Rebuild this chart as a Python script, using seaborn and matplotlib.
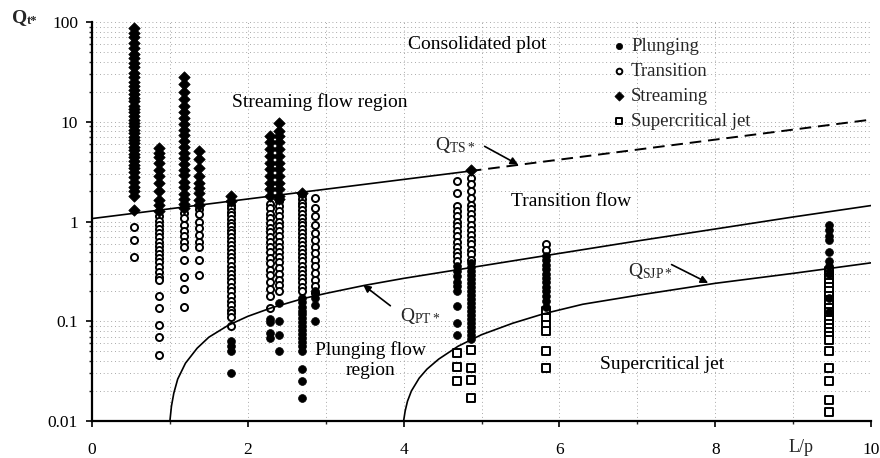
import numpy as np
import pandas as pd
import matplotlib
matplotlib.use("Agg")
import matplotlib.pyplot as plt
import seaborn as sns

# ---- measured points: one x position per test column, Q values per column ----
plunging_x = [1.78, 2.28, 2.40, 2.70, 2.86, 4.69, 4.87, 5.83, 9.46]
plunging_q = [
    [0.063, 0.056, 0.050, 0.030],
    [0.105, 0.098, 0.077, 0.068],
    [0.153, 0.100, 0.073, 0.050],
    [0.17, 0.155, 0.14, 0.128, 0.117, 0.107, 0.098, 0.09, 0.082, 0.075, 0.068,
     0.062, 0.056, 0.050, 0.033, 0.025, 0.017],
    [0.20, 0.17, 0.145, 0.10],
    [0.355, 0.316, 0.282, 0.25, 0.224, 0.20, 0.141, 0.096, 0.073],
    [0.38, 0.35, 0.32, 0.29, 0.265, 0.24, 0.22, 0.20, 0.183, 0.167, 0.152, 0.138,
     0.126, 0.115, 0.105, 0.095, 0.087, 0.079, 0.072, 0.066],
    [0.45, 0.41, 0.37, 0.335, 0.30, 0.27, 0.245, 0.22, 0.20, 0.18, 0.16, 0.14],
    [0.93, 0.83, 0.71, 0.66, 0.50, 0.40, 0.355, 0.30, 0.17, 0.125],
]

transition_x = [0.54, 0.86, 1.18, 1.37, 1.78, 2.28, 2.40, 2.70, 2.86, 4.69, 4.87, 5.83]
transition_q = [
    [0.88, 0.66, 0.44],
    [1.13, 1.02, 0.93, 0.85, 0.77, 0.70, 0.63, 0.57, 0.52, 0.47, 0.43, 0.39, 0.35,
     0.31, 0.28, 0.26, 0.178, 0.135, 0.092, 0.069, 0.046],
    [1.22, 1.09, 0.93, 0.80, 0.71, 0.63, 0.56, 0.415, 0.28, 0.21, 0.14],
    [1.32, 1.18, 1.0, 0.86, 0.74, 0.63, 0.56, 0.415, 0.29],
    [1.45, 1.35, 1.25, 1.15, 1.05, 0.97, 0.90, 0.83, 0.76, 0.70, 0.64, 0.58, 0.53,
     0.48, 0.44, 0.40, 0.36, 0.33, 0.30, 0.27, 0.245, 0.22, 0.20, 0.18, 0.16,
     0.145, 0.13, 0.12, 0.11, 0.09],
    [1.5, 1.35, 1.2, 1.08, 0.97, 0.87, 0.78, 0.70, 0.62, 0.55, 0.49, 0.43, 0.38,
     0.33, 0.29, 0.25, 0.21, 0.18, 0.137],
    [1.6, 1.42, 1.27, 1.13, 1.0, 0.90, 0.80, 0.71, 0.63, 0.56, 0.50, 0.44, 0.39,
     0.34, 0.30, 0.26, 0.23, 0.20],
    [1.85, 1.7, 1.55, 1.42, 1.3, 1.19, 1.09, 1.0, 0.92, 0.84, 0.77, 0.70, 0.64,
     0.58, 0.53, 0.48, 0.44, 0.40, 0.36, 0.33, 0.30, 0.27, 0.245, 0.22, 0.20],
    [1.73, 1.37, 1.13, 0.93, 0.77, 0.66, 0.56, 0.485, 0.415, 0.355, 0.305, 0.26,
     0.224, 0.19],
    [2.54, 1.94, 1.42, 1.27, 1.13, 1.0, 0.90, 0.80, 0.71, 0.63, 0.56, 0.50, 0.45, 0.40],
    [2.75, 2.35, 2.0, 1.73, 1.48, 1.32, 1.18, 1.05, 0.93, 0.83, 0.74, 0.66, 0.59,
     0.52, 0.47, 0.415],
    [0.60, 0.52],
]

streaming_x = [0.54, 0.86, 1.18, 1.37, 1.78, 2.28, 2.40, 2.70, 4.87]
streaming_q = [
    [88, 78, 70, 62, 55, 48, 44, 39, 35, 31, 28, 25, 23, 21, 19, 17.5, 16, 14.5,
     13.5, 12.5, 11.5, 10.5, 9.7, 9.0, 8.3, 7.7, 7.1, 6.6, 6.1, 5.6, 5.2, 4.8,
     4.4, 4.0, 3.7, 3.4, 3.1, 2.8, 2.5, 2.2, 2.0, 1.8, 1.3],
    [5.5, 4.9, 4.4, 3.9, 3.3, 2.85, 2.45, 2.0, 1.66, 1.48, 1.27],
    [28, 24, 20, 17, 14.5, 12.5, 11, 9.5, 8.3, 7.3, 6.4, 5.6, 4.9, 4.3, 3.8, 3.3,
     2.9, 2.5, 2.2, 1.9, 1.7, 1.5, 1.35],
    [5.1, 4.2, 3.46, 2.85, 2.45, 2.18, 1.94, 1.66, 1.48],
    [1.8, 1.6],
    [7.2, 6.2, 5.3, 4.5, 3.9, 3.33, 2.85, 2.45, 2.1, 1.8],
    [9.8, 8.1, 7.2, 6.2, 5.3, 4.5, 3.9, 3.33, 2.85, 2.45, 2.1, 1.8, 1.7],
    [1.95],
    [3.3],
]

supercritical_x = [4.69, 4.87, 5.83, 9.46]
supercritical_q = [
    [0.048, 0.035, 0.025],
    [0.052, 0.034, 0.026, 0.017],
    [0.126, 0.108, 0.092, 0.079, 0.050, 0.034],
    [0.32, 0.29, 0.265, 0.24, 0.22, 0.20, 0.18, 0.165, 0.15, 0.137, 0.125, 0.113,
     0.103, 0.094, 0.086, 0.078, 0.071, 0.065, 0.050, 0.034, 0.025, 0.0163, 0.0122],
]

# ---- regime boundary curves (points read along each boundary) ----
ts_x = [0.0, 4.85, 10.0]
ts_q = [1.07, 3.2, 10.5]
pt_x = [1.0, 1.02, 1.05, 1.1, 1.2, 1.35, 1.5, 1.75, 2.0, 2.3, 2.7, 3.0, 3.5, 4.0,
        5.0, 6.0, 7.0, 8.0, 9.0, 10.0]
pt_q = [0.01, 0.0141, 0.019, 0.0263, 0.038, 0.0537, 0.0692, 0.0912, 0.112, 0.136,
        0.168, 0.19, 0.229, 0.269, 0.359, 0.479, 0.638, 0.841, 1.11, 1.445]
sjp_x = [4.0, 4.02, 4.05, 4.1, 4.2, 4.3, 4.45, 4.7, 5.0, 5.4, 5.8, 6.3, 7.0, 8.0,
         9.0, 10.0]
sjp_q = [0.01, 0.0126, 0.0158, 0.02, 0.0269, 0.0331, 0.0417, 0.0562, 0.0733,
         0.0955, 0.119, 0.148, 0.182, 0.24, 0.302, 0.385]

categories = ["Plunging", "Transition", "Streaming", "Supercritical jet"]


def long_table(name, xs, qs):
    rows = [(name, x, q) for x, col in zip(xs, qs) for q in col]
    return pd.DataFrame(rows, columns=["regime", "L/p", "Q"])


points = pd.concat([
    long_table("Plunging", plunging_x, plunging_q),
    long_table("Transition", transition_x, transition_q),
    long_table("Streaming", streaming_x, streaming_q),
    long_table("Supercritical jet", supercritical_x, supercritical_q),
], ignore_index=True)

sns.set_style("ticks")
SERIF = ["Liberation Serif", "DejaVu Serif"]
plt.rcParams["font.family"] = SERIF
plt.rcParams["mathtext.fontset"] = "custom"
plt.rcParams["mathtext.rm"] = "Liberation Serif"
plt.rcParams["mathtext.it"] = "Liberation Serif:italic"
plt.rcParams["mathtext.bf"] = "Liberation Serif:bold"

fig = plt.figure(figsize=(8.8, 4.58), dpi=100)
ax = fig.add_axes([92 / 880, 37 / 458, 779 / 880, 399 / 458])
ax.set_yscale("log")
ax.set_xlim(0, 10)
ax.set_ylim(0.01, 100)

# dotted background grid
ax.set_xticks([0, 2, 4, 6, 8, 10])
ax.set_xticks([1, 3, 5, 7, 9], minor=True)
ax.grid(which="both", axis="both", linestyle=(0, (1, 3.5)), color="0.55", lw=0.6)
ax.set_axisbelow(True)

styles = {
    "Plunging": dict(marker="o", s=32, color="black", edgecolor="black", linewidth=0.5),
    "Transition": dict(marker="o", s=26, facecolor="white", edgecolor="black", linewidth=1.4),
    "Streaming": dict(marker="D", s=34, color="black", edgecolor="black", linewidth=0.5),
    "Supercritical jet": dict(marker="s", s=28, facecolor="white", edgecolor="black", linewidth=1.4),
}
draw_order = ["Transition", "Supercritical jet", "Streaming", "Plunging"]
for name in draw_order:
    sub = points[points["regime"] == name]
    sns.scatterplot(data=sub, x="L/p", y="Q", ax=ax, label=name, zorder=3,
                    **styles[name])

# boundary curves
ts = pd.DataFrame({"x": ts_x, "q": ts_q})
sns.lineplot(data=ts.iloc[:2], x="x", y="q", ax=ax, color="black", lw=1.2, zorder=4)
sns.lineplot(data=ts.iloc[1:], x="x", y="q", ax=ax, color="black", lw=1.4,
             zorder=4).lines[-1].set_dashes([6, 3.5])
sns.lineplot(x=pt_x, y=pt_q, ax=ax, color="black", lw=1.2, sort=False, zorder=4)
sns.lineplot(x=sjp_x, y=sjp_q, ax=ax, color="black", lw=1.2, sort=False, zorder=4)

# legend in the requested order
handles, labels = ax.get_legend_handles_labels()
lookup = dict(zip(labels, handles))
leg = ax.legend([lookup[c] for c in categories], categories, loc="upper left",
                bbox_to_anchor=(0.669, 0.96), frameon=False, fontsize=13.5,
                handlelength=0.6, handletextpad=0.35, labelspacing=0.41,
                borderpad=0, borderaxespad=0, markerscale=0.8)

# axes styling
for side in ("top", "right"):
    ax.spines[side].set_visible(False)
for side in ("left", "bottom"):
    ax.spines[side].set_linewidth(1.6)
    ax.spines[side].set_color("black")
ax.tick_params(axis="both", which="major", direction="out", length=4, width=1.2,
               labelsize=12.5, colors="black")
ax.tick_params(axis="both", which="minor", direction="out", length=2.5, width=1.0)
ax.tick_params(axis="x", pad=11)
ax.tick_params(axis="y", pad=6)
ax.set_yticks([0.01, 0.1, 1, 10, 100])
ax.set_yticklabels(["0.01", "0.1", "1", "10", "100"])
ax.set_xticklabels(["0", "2", "4", "6", "8", "10"])
ax.set_xlabel("")
ax.set_ylabel("")

# axis titles
fig.text(12 / 880, 1 - 18 / 458, "Q", fontsize=14, fontweight="bold", va="center",
         ha="left")
fig.text(27 / 880, 1 - 21 / 458, "t*", fontsize=9, fontweight="bold", va="center",
         ha="left")
ax.annotate("L/p", xy=(9.1, 0), xycoords=("data", "axes fraction"),
            xytext=(0, -26), textcoords="offset pixels", ha="center", va="center",
            fontsize=13)

# region labels
txt = dict(fontsize=14, color="black", ha="center", va="center")
ax.text(4.94, 60, "Consolidated plot", **txt)
ax.text(2.93, 15.7, "Streaming flow region", **txt)
ax.text(6.15, 1.59, "Transition flow", **txt)
ax.text(3.58, 0.041, "Plunging flow\nregion", linespacing=1.2, **txt)
ax.text(7.32, 0.0365, "Supercritical jet", **txt)

# boundary names with arrows
arrow = dict(arrowstyle="-|>", color="black", lw=1.2, mutation_scale=11,
             shrinkA=0, shrinkB=0)
ax.text(4.40, 5.9, r"Q$_{\mathrm{TS*}}$", fontsize=14, ha="left", va="center")
ax.annotate("", xy=(5.47, 3.72), xytext=(5.04, 5.67), arrowprops=arrow)
ax.text(3.95, 0.114, r"Q$_{\mathrm{PT*}}$", fontsize=14, ha="left", va="center")
ax.annotate("", xy=(3.48, 0.232), xytext=(3.83, 0.143), arrowprops=arrow)
ax.text(6.88, 0.321, r"Q$_{\mathrm{SJP*}}$", fontsize=14, ha="left", va="center")
ax.annotate("", xy=(7.91, 0.242), xytext=(7.44, 0.37), arrowprops=arrow)

fig.savefig("out.png", dpi=100, facecolor="white")
